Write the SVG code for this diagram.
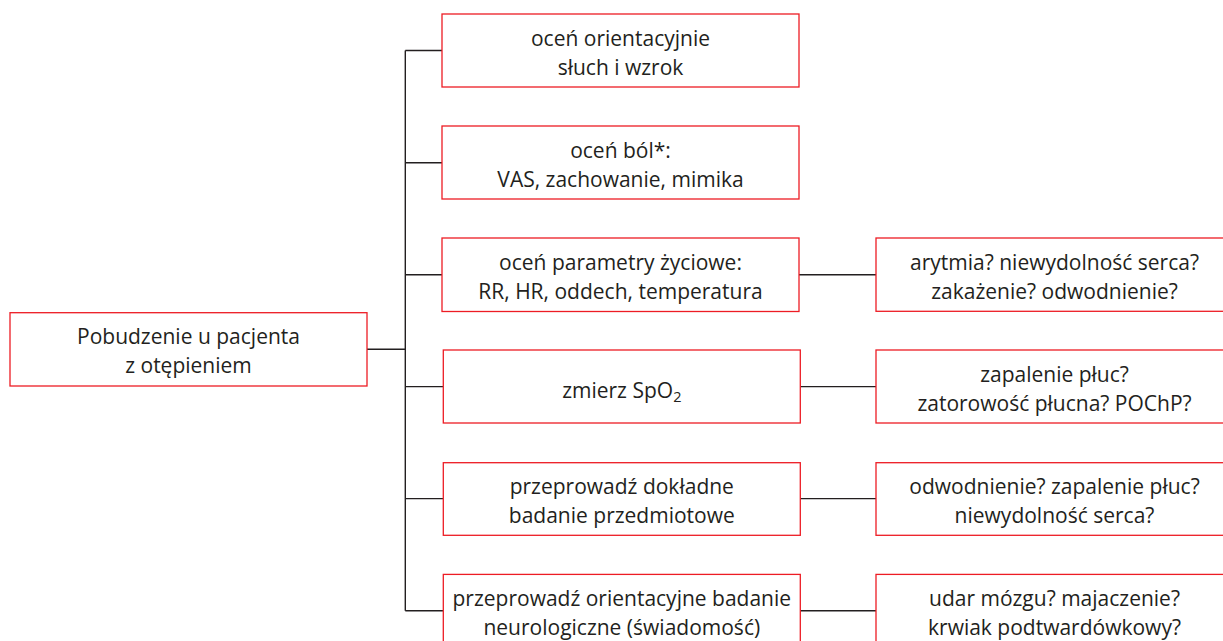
<svg xmlns="http://www.w3.org/2000/svg" width="1223" height="641" viewBox="0 0 1223 641">
<style>
.box{fill:#ffffff;stroke:#ed1c24;stroke-width:1.3}
.ln{fill:none;stroke:#231f20;stroke-width:1.4}
text{font-family:"Open Sans","Noto Sans","Liberation Sans",sans-serif;font-size:21px;fill:#231f20;text-anchor:middle}
.sub{font-size:14.5px}
</style>
<rect width="1223" height="641" fill="#ffffff"/>
<g id="connectors">
<path class="ln" d="M367 349.3H405.3M405.3 50.5V610.7M405.3 50.5H442M405.3 162.8H442M405.3 274.8H442M405.3 386.6H443M405.3 498.6H443M405.3 610.7H443"/>
<path class="ln" d="M799 274.8H876M800 386.6H876M800 498.6H876M800 610.7H876"/>
</g>
<g id="n-main"><rect class="box" x="10" y="312.7" width="357" height="73.3"/><text x="188.5" y="344.3">Pobudzenie u pacjenta</text><text x="188.5" y="373">z otępieniem</text></g>
<g id="n-b1"><rect class="box" x="442" y="14" width="357" height="73"/><text x="620.5" y="45.5">oceń orientacyjnie</text><text x="620.5" y="74.5">słuch i wzrok</text></g>
<g id="n-b2"><rect class="box" x="442" y="126" width="357" height="73"/><text x="620.5" y="157.5">oceń ból*:</text><text x="620.5" y="186.5">VAS, zachowanie, mimika</text></g>
<g id="n-b3"><rect class="box" x="442" y="238" width="357" height="73.5"/><text x="620.5" y="270">oceń parametry życiowe:</text><text x="620.5" y="299.3">RR, HR, oddech, temperatura</text></g>
<g id="n-b4"><rect class="box" x="443.3" y="350" width="357" height="73"/><text x="621.8" y="397.7">zmierz SpO<tspan class="sub" dy="4">2</tspan></text></g>
<g id="n-b5"><rect class="box" x="443.3" y="462.7" width="357" height="72.6"/><text x="621.8" y="494">przeprowadź dokładne</text><text x="621.8" y="523">badanie przedmiotowe</text></g>
<g id="n-b6"><rect class="box" x="443.3" y="574.4" width="357" height="73"/><text x="621.8" y="606">przeprowadź orientacyjne badanie</text><text x="621.8" y="635">neurologiczne (świadomość)</text></g>
<g id="n-r3"><rect class="box" x="876" y="238" width="357" height="73.3"/><text x="1054.5" y="270">arytmia? niewydolność serca?</text><text x="1054.5" y="299.3">zakażenie? odwodnienie?</text></g>
<g id="n-r4"><rect class="box" x="876" y="350" width="357" height="73"/><text x="1054.5" y="382">zapalenie płuc?</text><text x="1054.5" y="411">zatorowość płucna? POChP?</text></g>
<g id="n-r5"><rect class="box" x="876" y="462.7" width="357" height="72.6"/><text x="1054.5" y="494">odwodnienie? zapalenie płuc?</text><text x="1054.5" y="523">niewydolność serca?</text></g>
<g id="n-r6"><rect class="box" x="876" y="574.4" width="357" height="73"/><text x="1054.5" y="606">udar mózgu? majaczenie?</text><text x="1054.5" y="635">krwiak podtwardówkowy?</text></g>
</svg>
